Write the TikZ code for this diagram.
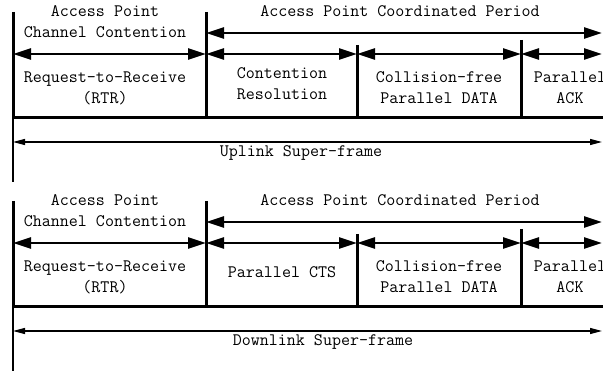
\documentclass[tikz,border=0pt]{standalone}
\usepackage{fontspec}
\usetikzlibrary{arrows.meta}
\usetikzlibrary{positioning}

\tikzset{
  bar/.style={line width=3pt},
  fineline/.style={line width=1.3pt},
  bigspan/.style={line width=2.7pt, {Triangle[length=18pt,width=11pt]}-{Triangle[length=18pt,width=11pt]}},
  superspan/.style={line width=1.3pt, {Triangle[length=12pt,width=6pt]}-{Triangle[length=12pt,width=6pt]}},
  lbl/.style={font=\fontsize{17.5}{21}\selectfont\ttfamily, align=center, inner sep=0pt},
}

\begin{document}
\begin{tikzpicture}[x=1pt, y=-1pt]
            \useasboundingbox (0,0) rectangle (603,371);
            \clip (0,0) rectangle (603,371);
            \foreach \p/\dy/\midtext/\suptext/\supx in {u/0/{Contention\\Resolution}/{Uplink Super-frame}/301, d/189/{Parallel CTS}/{Downlink Super-frame}/323}{
            \begin{scope}[shift={(0,\dy)}]
                % slot borders
                \coordinate (\p0) at (13,12);
                \coordinate (\p1) at (206,12);
                \coordinate (\p2) at (357,45);
                \coordinate (\p3) at (521,40);
                \coordinate (\p-base) at (603,118);
                \coordinate (\p-foot) at (13,182);
                \coordinate (\p-big) at (602,33);
                \coordinate (\p-small) at (602,54);
                \coordinate (\p-whole) at (602,142);
                \draw[bar] (\p0) |- (\p-base);
                \draw[bar] (\p1) -- (\p1 |- \p-base);
                \draw[bar] (\p2) -- (\p2 |- \p-base);
                \draw[bar] (\p3) -- (\p3 |- \p-base);
                \draw[fineline] (\p0 |- \p-base) -- (\p-foot);
                % periods
                \draw[bigspan] (\p1 |- \p-big) -- (\p-big);
                \draw[bigspan] (\p0 |- \p-small) -- (\p1 |- \p-small);
                \draw[bigspan] (\p1 |- \p-small) -- (\p2 |- \p-small);
                \draw[bigspan] (\p2 |- \p-small) -- (\p3 |- \p-small);
                \draw[bigspan] (\p3 |- \p-small) -- (\p-small);
                \draw[superspan] (\p0 |- \p-whole) -- (\p-whole);
                % labels
                \node[lbl] (\p-contention) at (105,21.5) {Access Point\\Channel Contention};
                \node[lbl] (\p-coordinated) at (400,11) {Access Point Coordinated Period};
                \node[lbl] (\p-rtr) at (105,88) {Request-to-Receive\\(RTR)};
                \node[lbl] (\p-mid) at (282,83.5) {\midtext};
                \node[lbl] (\p-data) at (439,88) {Collision-free\\Parallel DATA};
                \node[lbl] (\p-ack) at (570,88) {Parallel\\ACK};
                \node[lbl] (\p-frame) at (\supx,153) {\suptext};
            \end{scope}
            }
        \end{tikzpicture}
\end{document}
